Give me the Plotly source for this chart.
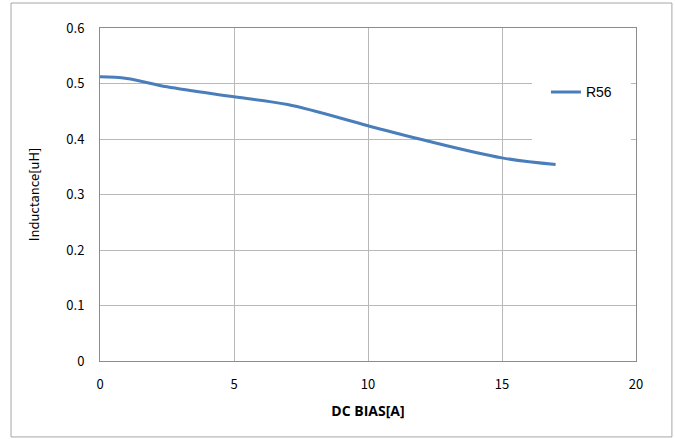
import plotly.graph_objects as go

dc_bias = [0, 1, 2.5, 5, 7, 10, 12, 15, 17]
inductance = [0.512, 0.509, 0.494, 0.476, 0.462, 0.424, 0.399, 0.366, 0.354]
series_name = "R56"
x_ticks = [0, 5, 10, 15, 20]
y_ticks = [0, 0.1, 0.2, 0.3, 0.4, 0.5, 0.6]
y_tick_text = ["0", "0.1", "0.2", "0.3", "0.4", "0.5", "0.6"]

fig = go.Figure()
fig.add_trace(go.Scatter(
    x=dc_bias, y=inductance, mode="lines", name=series_name,
    line=dict(color="#4a7ebb", width=3, shape="spline", smoothing=1.0),
))

tick_font = dict(family="Noto Sans CJK JP, Arial, sans-serif", size=13, color="#000000")

fig.update_layout(
    width=675, height=439,
    margin=dict(l=100, r=39, t=28, b=78),
    paper_bgcolor="white", plot_bgcolor="white",
    showlegend=True,
    legend=dict(x=0.832, y=0.855, xanchor="left", yanchor="top",
                bgcolor="rgba(0,0,0,0)", font=dict(family="Arial, sans-serif", size=14, color="#000"),
                borderwidth=0),
    xaxis=dict(range=[0, 20], tickvals=x_ticks, ticktext=[str(v) for v in x_ticks],
               showgrid=True, gridcolor="#b8b8b8", gridwidth=1,
               showline=True, linecolor="#8c8c8c", linewidth=1, mirror=True,
               zeroline=False, ticks="", ticklabelstandoff=11, tickfont=tick_font,
               title=dict(text="DC BIAS[A]", standoff=14,
                          font=dict(family="Open Sans, Arial, sans-serif", size=14, color="#000", weight="bold"))),
    yaxis=dict(range=[0, 0.6], tickvals=y_ticks, ticktext=y_tick_text,
               showgrid=True, gridcolor="#b8b8b8", gridwidth=1,
               showline=True, linecolor="#8c8c8c", linewidth=1, mirror=True,
               zeroline=False, ticks="", ticklabelstandoff=12, tickfont=tick_font,
               title=dict(text="Inductance[uH]", standoff=23,
                          font=dict(family="Noto Sans CJK JP, Arial, sans-serif", size=13, color="#000"))),
    shapes=[
        dict(type="rect", xref="x", yref="y", x0=16.12, x1=19.81, y0=0.378, y1=0.57,
             fillcolor="white", line=dict(width=0), layer="between"),
        dict(type="rect", xref="paper", yref="paper", x0=-0.166, x1=1.067, y0=-0.228, y1=1.075,
             fillcolor="rgba(0,0,0,0)", line=dict(color="#a6a6a6", width=1), layer="below"),
    ],
)

fig.write_html("out.html", config={"displayModeBar": False},
               post_script="document.body.style.margin='0px';document.body.style.overflow='hidden';")
